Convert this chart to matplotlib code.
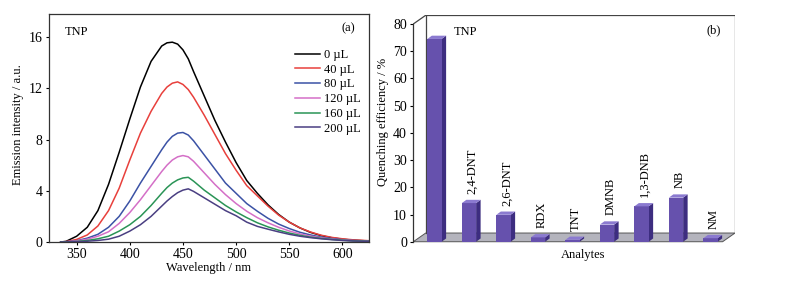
import numpy as np
import matplotlib.pyplot as plt
from matplotlib.patches import Polygon

plt.rcParams['font.family'] = ['Liberation Serif', 'DejaVu Serif']
plt.rcParams['font.size'] = 9

# ---- data: (a) emission spectra ----
wavelength = [335, 340, 350, 360, 370, 380, 390, 400, 410, 420, 430, 435, 440, 445, 450, 455, 460,
              470, 480, 490, 500, 510, 520, 530, 540, 550, 560, 570, 580, 590, 600, 610, 625]
I_0 = [0, 0.05, 0.45, 1.15, 2.45, 4.5, 7.0, 9.6, 12.1, 14.1, 15.3, 15.55, 15.6, 15.45, 15.0, 14.3, 13.3,
       11.4, 9.5, 7.8, 6.2, 4.8, 3.8, 2.9, 2.15, 1.55, 1.1, 0.75, 0.5, 0.33, 0.22, 0.14, 0.08]
I_40 = [0, 0.03, 0.2, 0.55, 1.25, 2.45, 4.2, 6.4, 8.5, 10.2, 11.6, 12.1, 12.4, 12.5, 12.3, 11.9, 11.3,
        9.9, 8.4, 6.9, 5.6, 4.4, 3.6, 2.8, 2.1, 1.55, 1.1, 0.78, 0.53, 0.36, 0.25, 0.17, 0.1]
I_80 = [0, 0.02, 0.1, 0.3, 0.6, 1.15, 2.0, 3.2, 4.6, 5.9, 7.2, 7.8, 8.25, 8.5, 8.55, 8.35, 7.9,
        6.8, 5.7, 4.6, 3.8, 3.0, 2.4, 1.85, 1.4, 1.05, 0.76, 0.55, 0.38, 0.27, 0.18, 0.12, 0.07]
I_120 = [0, 0.01, 0.08, 0.22, 0.45, 0.8, 1.45, 2.3, 3.3, 4.4, 5.5, 6.0, 6.4, 6.65, 6.75, 6.65, 6.3,
         5.4, 4.5, 3.7, 3.0, 2.4, 1.9, 1.5, 1.15, 0.86, 0.63, 0.46, 0.33, 0.23, 0.16, 0.1, 0.06]
I_160 = [0, 0.0, 0.04, 0.12, 0.25, 0.45, 0.85, 1.35, 2.0, 2.85, 3.8, 4.25, 4.6, 4.85, 5.0, 5.05, 4.75,
         4.05, 3.45, 2.85, 2.35, 1.9, 1.5, 1.18, 0.92, 0.7, 0.52, 0.38, 0.28, 0.2, 0.14, 0.09, 0.05]
I_200 = [0, 0.0, 0.02, 0.06, 0.12, 0.22, 0.45, 0.85, 1.35, 2.0, 2.8, 3.2, 3.55, 3.85, 4.05, 4.15, 3.95,
         3.45, 2.95, 2.45, 2.05, 1.55, 1.22, 1.0, 0.79, 0.6, 0.45, 0.34, 0.25, 0.18, 0.12, 0.08, 0.05]
spectra = [I_0, I_40, I_80, I_120, I_160, I_200]
volume_labels = ['0 µL', '40 µL', '80 µL', '120 µL', '160 µL', '200 µL']
line_colors = ['#000000', '#e8403c', '#3b52a5', '#d46fc7', '#2a9456', '#4a3f82']

# ---- data: (b) quenching efficiency ----
analytes = ['TNP', '2,4-DNT', '2,6-DNT', 'RDX', 'TNT', 'DMNB', '1,3-DNB', 'NB', 'NM']
quenching = [74.5, 14.2, 9.9, 1.6, 0.7, 6.3, 13.0, 16.2, 1.3]

fig = plt.figure(figsize=(7.88, 2.81), dpi=100)
W, H = 788, 281

# ---------------- panel (a) ----------------
ax1 = fig.add_axes([49 / W, 39 / H, 320 / W, 228 / H])
for y, lab, c in zip(spectra, volume_labels, line_colors):
    ax1.plot(wavelength, y, color=c, lw=1.1, label=lab)
ax1.set_xlim(324, 625)
ax1.set_ylim(0, 17.8)
ax1.set_xticks([350, 400, 450, 500, 550, 600])
ax1.set_yticks([0, 4, 8, 12, 16])
ax1.tick_params(direction='out', length=2.5, width=0.8, pad=2, labelsize=10)
for s in ax1.spines.values():
    s.set_linewidth(0.9)
    s.set_color('#333333')
ax1.set_xlabel('Wavelength / nm')
ax1.xaxis.set_label_coords(0.497, -0.088)
ax1.set_ylabel('Emission intensity / a.u.')
ax1.yaxis.set_label_coords(-0.078, 0.513)
ax1.text(0.05, 0.92, 'TNP', transform=ax1.transAxes, ha='left', va='center')
ax1.text(0.934, 0.937, '(a)', transform=ax1.transAxes, ha='center', va='center')
ax1.legend(loc='upper right', bbox_to_anchor=(1.0, 0.885), frameon=False, fontsize=9,
           handlelength=2.0, handletextpad=0.3, labelspacing=0.22, borderaxespad=0.3)

# ---------------- panel (b) ----------------
ax2 = fig.add_axes([413.3 / W, 36 / H, (735 - 413.3) / W, 230 / H])
ax2.set_xlim(-0.614, 8.71)
ax2.set_ylim(-1.2, 83.3)
x = np.arange(len(analytes))
wall_dx, wall_dy = 0.36, 3.2
bar_w, bar_dx, bar_dy = 0.414, 0.13, 1.2
x_front_left, x_front_right = -0.614, 8.35

# floor
floor = Polygon([(x_front_left, 0), (x_front_right, 0),
                 (x_front_right + wall_dx, wall_dy), (x_front_left + wall_dx, wall_dy)],
                closed=True, facecolor='#b4b4bd', edgecolor='#555555', lw=0.7, zorder=1)
ax2.add_patch(floor)
# back wall outline
bx0, bx1 = x_front_left + wall_dx, x_front_right + wall_dx
ax2.plot([bx0, bx0, bx1, bx1], [wall_dy, 80 + wall_dy, 80 + wall_dy, wall_dy],
         color='#444444', lw=0.9, zorder=1)
ax2.plot([x_front_left, bx0], [80, 80 + wall_dy], color='#444444', lw=0.9, zorder=1)

# bars: front face + side + top
ax2.bar(x, quenching, width=bar_w, color='#6651ad', edgecolor='none', zorder=3)
for xi, v in zip(x, quenching):
    r, l = xi + bar_w / 2, xi - bar_w / 2
    side = Polygon([(r, 0), (r, v), (r + bar_dx, v + bar_dy), (r + bar_dx, bar_dy)],
                   closed=True, facecolor='#3d2d80', edgecolor='none', zorder=2.9)
    top = Polygon([(l, v), (r, v), (r + bar_dx, v + bar_dy), (l + bar_dx, v + bar_dy)],
                  closed=True, facecolor='#8b7ad0', edgecolor='none', zorder=3.1)
    ax2.add_patch(side)
    ax2.add_patch(top)

for xi, v, name in zip(x[1:], quenching[1:], analytes[1:]):
    ax2.text(xi + 0.1, v + 3.4, name, rotation=90, ha='center', va='bottom', fontsize=9)
ax2.text(0.565, 77, 'TNP', ha='left', va='center')
ax2.text(8.1, 77.8, '(b)', ha='center', va='center')

for s in ['top', 'right', 'bottom']:
    ax2.spines[s].set_visible(False)
ax2.spines['left'].set_bounds(0, 80)
ax2.spines['left'].set_color('#333333')
ax2.spines['left'].set_linewidth(0.9)
ax2.set_xticks([])
ax2.set_yticks(range(0, 81, 10))
ax2.tick_params(axis='y', direction='out', length=2.5, width=0.8, pad=2, labelsize=10)
ax2.set_xlabel('Analytes')
ax2.xaxis.set_label_coords(0.5275, -0.017)
ax2.set_ylabel('Quenching efficiency / %')
ax2.yaxis.set_label_coords(-0.075, 0.533)

fig.savefig('out.png', dpi=100)
